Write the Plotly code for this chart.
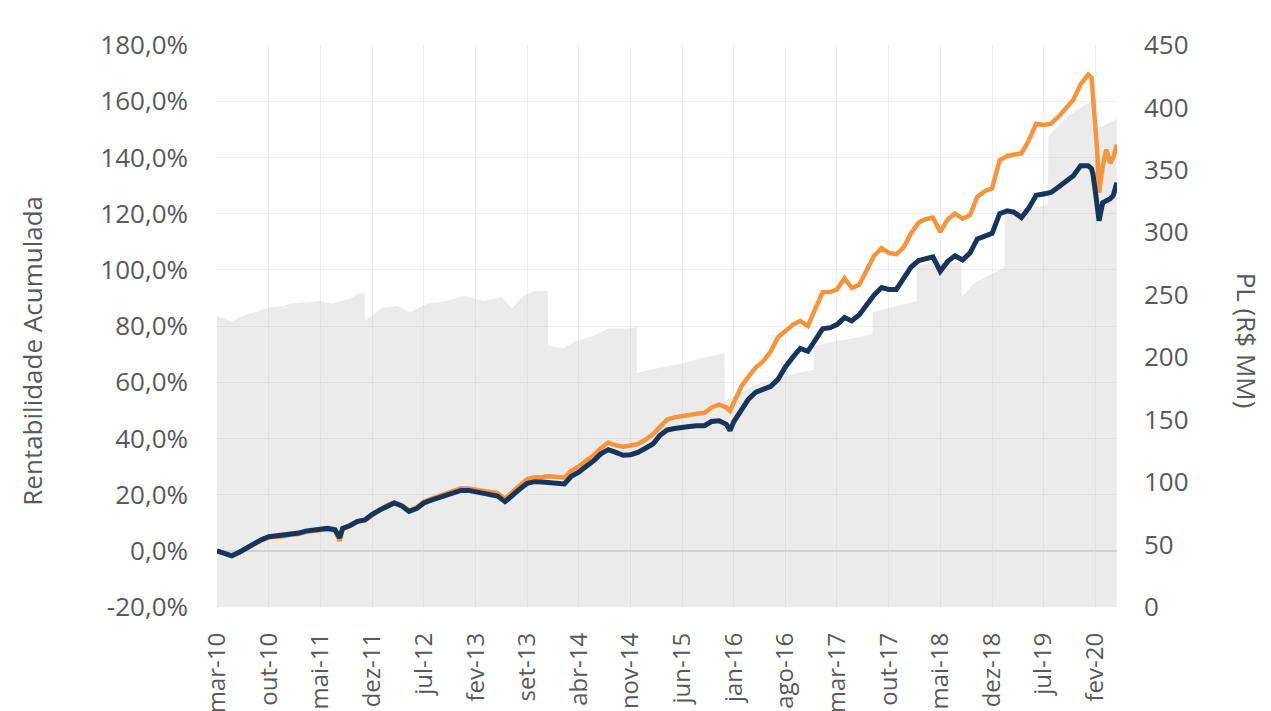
import plotly.graph_objects as go

# ---------------- data ----------------
dates = [
    "2010-03-01", "2010-04-01", "2010-05-01", "2010-06-01", "2010-07-01", "2010-08-01",
    "2010-09-01", "2010-10-01", "2010-11-01", "2010-12-01", "2011-01-01", "2011-02-01",
    "2011-03-01", "2011-04-01", "2011-05-01", "2011-06-01", "2011-07-01", "2011-07-20",
    "2011-08-01", "2011-09-01", "2011-10-01", "2011-11-01", "2011-12-01", "2012-01-01",
    "2012-02-01", "2012-03-01", "2012-04-01", "2012-05-01", "2012-06-01", "2012-07-01",
    "2012-08-01", "2012-09-01", "2012-10-01", "2012-11-01", "2012-12-01", "2013-01-01",
    "2013-02-01", "2013-03-01", "2013-04-01", "2013-05-01", "2013-06-01", "2013-07-01",
    "2013-08-01", "2013-09-01", "2013-10-01", "2013-11-01", "2013-12-01", "2014-01-01",
    "2014-02-01", "2014-03-01", "2014-04-01", "2014-05-01", "2014-06-01", "2014-07-01",
    "2014-08-01", "2014-09-01", "2014-10-01", "2014-11-01", "2014-12-01", "2015-01-01",
    "2015-02-01", "2015-03-01", "2015-04-01", "2015-05-01", "2015-06-01", "2015-07-01",
    "2015-08-01", "2015-09-01", "2015-10-01", "2015-11-01", "2015-12-01", "2015-12-16",
    "2016-01-01", "2016-02-01", "2016-03-01", "2016-04-01", "2016-05-01", "2016-06-01",
    "2016-07-01", "2016-08-01", "2016-09-01", "2016-10-01", "2016-11-01", "2016-12-01",
    "2017-01-01", "2017-02-01", "2017-03-01", "2017-04-01", "2017-05-01", "2017-06-01",
    "2017-07-01", "2017-08-01", "2017-09-01", "2017-10-01", "2017-11-01", "2017-12-01",
    "2018-01-01", "2018-02-01", "2018-03-01", "2018-04-01", "2018-05-01", "2018-06-01",
    "2018-07-01", "2018-08-01", "2018-09-01", "2018-10-01", "2018-11-01", "2018-12-01",
    "2019-01-01", "2019-02-01", "2019-03-01", "2019-04-01", "2019-05-01", "2019-06-01",
    "2019-07-01", "2019-08-01", "2019-09-01", "2019-10-01", "2019-11-01", "2019-12-01",
    "2020-01-01", "2020-01-15", "2020-01-21", "2020-02-01", "2020-02-07", "2020-02-15",
    "2020-03-01", "2020-03-16", "2020-04-01", "2020-04-14", "2020-04-28",
]

fundo = [
    0.0, -0.8, -1.8, -0.5, 1.0, 2.5,
    4.0, 5.0, 5.3, 5.5, 6.0, 6.3,
    7.0, 7.5, 7.7, 8.0, 7.5, 4.6,
    8.0, 9.0, 10.5, 11.0, 13.0, 14.5,
    16.0, 17.0, 16.0, 14.0, 15.0, 17.0,
    18.0, 19.0, 19.5, 20.5, 21.5, 21.5,
    21.0, 20.5, 20.0, 19.5, 17.5, 20.0,
    22.0, 24.0, 24.6, 24.5, 24.3, 24.0,
    23.8, 26.5, 28.0, 30.0, 32.0, 34.5,
    36.0, 35.0, 34.0, 34.2, 35.0, 36.5,
    38.0, 41.0, 43.0, 43.5, 44.0, 44.2,
    44.5, 44.5, 46.0, 46.3, 45.0, 42.8,
    46.0, 50.5, 54.0, 56.5, 57.5, 58.5,
    61.0, 65.5, 69.0, 72.0, 71.0, 75.0,
    79.0, 79.4, 80.5, 83.0, 81.8, 84.0,
    87.7, 91.0, 93.7, 93.0, 93.0, 97.0,
    101.0, 103.3, 104.0, 104.6, 99.5, 103.0,
    105.0, 103.5, 106.0, 111.0, 112.0, 113.0,
    120.0, 121.0, 120.5, 118.6, 122.0, 126.5,
    127.0, 127.5, 129.5, 131.5, 133.5, 137.0,
    137.0, 136.0, 134.0, 127.0, 122.0, 117.5,
    123.9, 124.5, 125.3, 126.5, 131.0,
]

benchmark = [
    0.0, -0.8, -1.8, -0.6, 0.9, 2.4,
    3.8, 4.8, 5.0, 5.2, 5.8, 6.0,
    6.7, 7.2, 7.4, 7.6, 7.2, 3.5,
    7.7, 8.8, 10.3, 10.8, 12.8, 14.5,
    16.2, 17.2, 16.2, 14.3, 15.4, 17.5,
    18.5, 19.5, 20.2, 21.3, 22.3, 22.2,
    21.8, 21.3, 21.0, 20.5, 18.5, 21.0,
    23.3, 25.5, 26.2, 26.3, 26.5, 26.3,
    26.0, 28.5, 30.0, 32.0, 34.0, 36.5,
    38.5, 37.5, 37.0, 37.5, 38.0, 39.5,
    41.5, 44.0, 46.7, 47.5, 48.0, 48.5,
    48.8, 49.0, 51.0, 52.0, 51.0, 49.8,
    53.0, 58.5, 62.0, 65.3, 67.5, 71.0,
    76.0, 78.0, 80.5, 81.8, 80.0, 86.0,
    92.0, 92.1, 93.0, 97.0, 93.5, 94.7,
    100.0, 105.0, 107.7, 106.0, 105.5, 108.0,
    113.0, 116.8, 118.0, 118.6, 113.5, 118.0,
    120.0, 118.2, 119.5, 126.0, 128.0, 129.0,
    139.0, 140.5, 141.0, 141.4, 146.0, 152.0,
    151.5, 152.0, 154.5, 157.5, 160.5, 166.0,
    169.5, 168.4, 162.5, 150.0, 142.8, 127.4,
    136.8, 142.8, 137.9, 140.0, 144.6,
]

pl_dates = [
    "2010-03-01", "2010-04-01", "2010-05-01", "2010-06-01", "2010-07-15", "2010-09-01",
    "2010-10-05", "2010-12-01", "2011-01-01", "2011-03-01", "2011-05-01", "2011-06-20",
    "2011-08-01", "2011-09-01", "2011-10-05", "2011-11-01", "2011-11-03", "2012-01-15",
    "2012-03-15", "2012-05-05", "2012-07-15", "2012-10-01", "2012-12-15", "2013-03-05",
    "2013-05-20", "2013-06-30", "2013-08-15", "2013-10-01", "2013-11-24", "2013-11-26",
    "2014-01-25", "2014-03-20", "2014-05-30", "2014-08-01", "2014-10-20", "2014-11-26",
    "2014-11-28", "2015-01-20", "2015-06-20", "2015-09-05", "2015-11-23", "2015-11-25",
    "2016-02-01", "2016-04-01", "2016-06-01", "2016-08-01", "2016-10-01", "2016-11-24",
    "2016-11-26", "2017-03-01", "2017-06-01", "2017-07-25", "2017-07-27", "2017-11-01",
    "2018-01-24", "2018-01-26", "2018-05-01", "2018-07-27", "2018-07-29", "2018-09-15",
    "2018-11-15", "2019-01-21", "2019-01-23", "2019-04-01", "2019-07-19", "2019-07-21",
    "2019-10-01", "2019-12-25", "2020-01-26", "2020-01-29", "2020-03-01", "2020-04-01",
    "2020-04-28",
]

pl_values = [
    233, 231, 228.5, 232, 235, 238,
    240, 241, 243, 244, 245, 243,
    245, 247, 251, 251, 229, 240,
    241, 236, 243, 245, 249, 245,
    248, 239, 249, 253, 253, 209.6,
    207, 213, 217, 223, 223, 224,
    187.4, 190, 196, 200, 203, 165,
    172, 178, 182, 185, 188, 190,
    209, 213, 216, 219, 236, 241,
    245, 274, 275, 276, 248, 259,
    265, 272, 316, 318, 322, 377,
    392, 403, 405, 383, 385, 388,
    391,
]

x_tick_vals = [
    "2010-03-01", "2010-10-01", "2011-05-01", "2011-12-01", "2012-07-01", "2013-02-01",
    "2013-09-01", "2014-04-01", "2014-11-01", "2015-06-01", "2016-01-01", "2016-08-01",
    "2017-03-01", "2017-10-01", "2018-05-01", "2018-12-01", "2019-07-01", "2020-02-01",
]
x_tick_text = [
    "mar-10", "out-10", "mai-11", "dez-11", "jul-12", "fev-13",
    "set-13", "abr-14", "nov-14", "jun-15", "jan-16", "ago-16",
    "mar-17", "out-17", "mai-18", "dez-18", "jul-19", "fev-20",
]
y_tick_vals = [-20, 0, 20, 40, 60, 80, 100, 120, 140, 160, 180]
y_tick_text = ["-20,0%", "0,0%", "20,0%", "40,0%", "60,0%", "80,0%",
               "100,0%", "120,0%", "140,0%", "160,0%", "180,0%"]
pl_tick_vals = [0, 50, 100, 150, 200, 250, 300, 350, 400, 450]

# ---------------- figure ----------------
FONT = "Open Sans"
TXT = "#595959"

fig = go.Figure()

# PL area on the base axis (drawn underneath), return lines on the overlay axis (drawn on top)
fig.add_trace(go.Scatter(
    x=pl_dates, y=pl_values, yaxis="y", mode="lines",
    line=dict(width=0, color="rgba(0,0,0,0)"),
    fill="tozeroy", fillcolor="rgba(195,195,195,0.33)",
    name="PL", showlegend=False, hoverinfo="skip",
))
fig.add_trace(go.Scatter(
    x=dates, y=benchmark, yaxis="y2", mode="lines",
    line=dict(color="#F7943C", width=4.5),
    name="Benchmark", showlegend=False,
))
fig.add_trace(go.Scatter(
    x=dates, y=fundo, yaxis="y2", mode="lines",
    line=dict(color="#17355B", width=5),
    name="Fundo", showlegend=False,
))

fig.update_layout(
    width=1271, height=711,
    margin=dict(l=209, r=162, t=37, b=112, autoexpand=False),
    paper_bgcolor="white", plot_bgcolor="white",
    font=dict(family=FONT, color=TXT, size=24),
    xaxis=dict(
        type="date", range=["2010-03-01", "2020-04-29"],
        tickmode="array", tickvals=x_tick_vals, ticktext=x_tick_text,
        tickangle=-90, tickfont=dict(size=24, color=TXT, family=FONT),
        showgrid=True, gridcolor="#EFEFEF", gridwidth=1,
        showline=False, zeroline=False, ticks="", ticklabelstandoff=20,
        automargin=False,
    ),
    yaxis=dict(
        range=[0, 450], tickmode="array", tickvals=pl_tick_vals,
        side="right",
        tickfont=dict(size=26, color=TXT, family=FONT),
        showgrid=False, zeroline=False, showline=False, ticks="",
        ticklabelstandoff=26, automargin=False,
    ),
    yaxis2=dict(
        range=[-20, 180], tickmode="array", tickvals=y_tick_vals, ticktext=y_tick_text,
        overlaying="y", side="left",
        tickfont=dict(size=26, color=TXT, family=FONT),
        showgrid=True, gridcolor="#EFEFEF", gridwidth=1,
        zeroline=True, zerolinecolor="#DADADA", zerolinewidth=1.5,
        showline=False, ticks="", ticklabelstandoff=28, automargin=False,
    ),
    annotations=[
        dict(text="Rentabilidade Acumulada", xref="paper", yref="paper",
             x=-0.2056, y=0.456, xanchor="center", yanchor="middle",
             textangle=-90, showarrow=False,
             font=dict(size=26, color=TXT, family=FONT)),
        dict(text="PL (R$ MM)", xref="paper", yref="paper",
             x=1.1444, y=0.474, xanchor="center", yanchor="middle",
             textangle=90, showarrow=False,
             font=dict(size=26, color=TXT, family=FONT)),
    ],
    showlegend=False,
)

fig.write_html("out.html")
